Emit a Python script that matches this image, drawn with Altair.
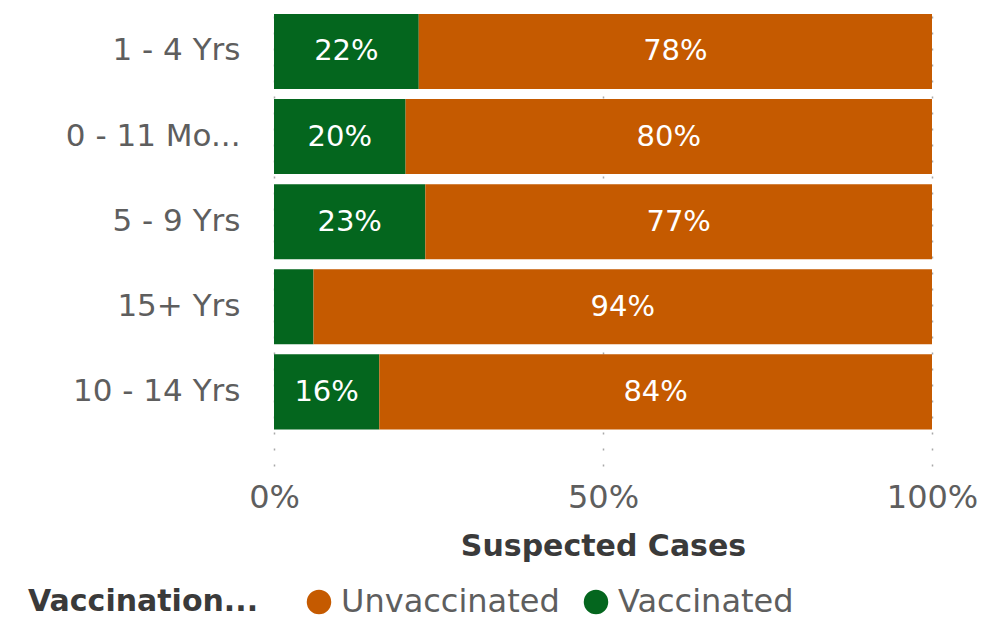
import altair as alt
import pandas as pd

ages = ["1 - 4 Yrs", "0 - 11 Mo...", "5 - 9 Yrs", "15+ Yrs", "10 - 14 Yrs"]
vaccinated = [22, 20, 23, 6, 16]
unvaccinated = [78, 80, 77, 94, 84]
statuses = ["Unvaccinated", "Vaccinated"]
colors = ["#C55A00", "#04661E"]

rows = []
for a, v, u in zip(ages, vaccinated, unvaccinated):
    rows.append({"age": a, "status": "Vaccinated", "pct": v, "ord": 0})
    rows.append({"age": a, "status": "Unvaccinated", "pct": u, "ord": 1})
df = pd.DataFrame(rows)

FONT = "DejaVu Sans"

base = alt.Chart(df).transform_stack(
    stack="pct", groupby=["age"], as_=["x0", "x1"],
    sort=[alt.SortField("ord", order="ascending")], offset="normalize"
).transform_calculate(mid="(datum.x0 + datum.x1) / 2", lbl="datum.pct + '%'")

yenc = alt.Y("age:N", sort=ages, title=None,
             scale=alt.Scale(paddingInner=0.118, paddingOuter=0.25, align=0.14),
             axis=alt.Axis(labelFontSize=31, labelColor="#5E5E5E", labelPadding=34,
                           ticks=False, domain=False, labelFont=FONT, labelLimit=400))

bars = base.mark_bar().encode(
    x=alt.X("x0:Q", scale=alt.Scale(domain=[0, 1]), title="Suspected Cases",
            axis=alt.Axis(format="%", values=[0, 0.5, 1], grid=True, gridDash=[2, 14],
                          gridColor="#A8A8A8", gridWidth=1.5, domain=False, ticks=False,
                          labelFlush=False,
                          labelFontSize=32, labelColor="#5E5E5E", labelPadding=16,
                          labelFont=FONT, titleFont=FONT, titleFontSize=30,
                          titleFontWeight="bold", titleColor="#3A3A3A", titlePadding=18)),
    x2="x1:Q",
    y=yenc,
    color=alt.Color("status:N", scale=alt.Scale(domain=statuses, range=colors),
                    legend=alt.Legend(title="Vaccination...", orient="none",
                                      direction="horizontal", titleOrient="left",
                                      legendX=-246, legendY=578,
                                      titleFontSize=30, titleFontWeight="bold",
                                      titleColor="#3A3A3A", titleFont=FONT, titleLimit=400,
                                      labelFontSize=32, labelColor="#5E5E5E", labelFont=FONT,
                                      labelLimit=400,
                                      symbolType="circle", symbolSize=600,
                                      symbolStrokeWidth=0, labelOffset=6,
                                      columnPadding=20, titlePadding=44)),
    order=alt.Order("ord:Q"),
)

labels = base.transform_filter("datum.pct >= 10").mark_text(
    color="white", fontSize=29, font=FONT
).encode(
    x=alt.X("mid:Q"),
    y=alt.Y("age:N", sort=ages),
    text=alt.Text("lbl:N"),
)

chart = (bars + labels).properties(
    width=658, height=458,
    padding={"left": 20, "top": 0, "right": 5, "bottom": 5},
).configure_view(stroke=None)

chart.save("out.html", embed_options={"renderer": "svg", "actions": False})
